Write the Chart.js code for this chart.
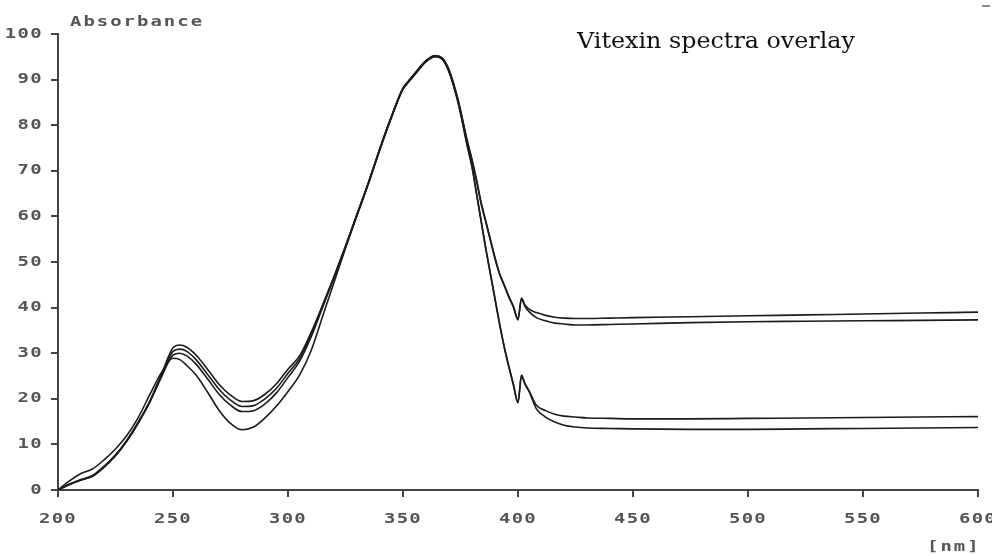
<!DOCTYPE html>
<html>
<head>
<meta charset="utf-8">
<script src="https://cdn.jsdelivr.net/npm/chart.js@4.4.1/dist/chart.umd.min.js"></script>
<style>
  html, body { margin: 0; padding: 0; background: #fff; }
  #wrap { position: relative; width: 992px; height: 555px; overflow: hidden; }
  canvas { position: absolute; left: 0; top: 0; }
  .mono { position: absolute; font-family: "DejaVu Sans Mono", monospace; font-weight: bold; font-size: 14px; color: #555; line-height: 14px; white-space: nowrap; letter-spacing: 1.5px; transform: scaleX(1.35); transform-origin: left top; }
  #ylabel { left: 70px; top: 14px; }
  #xunit { left: 927px; top: 539px; }
  #title { position: absolute; left: 577px; top: 29px; font-family: "DejaVu Serif", serif; font-size: 22px; line-height: 24px; color: #111; white-space: nowrap; transform-origin: left top; }
  #dash { position: absolute; left: 982px; top: 5px; width: 8px; height: 2px; background: #888; }
</style>
</head>
<body>
<div id="wrap">
  <canvas id="chart" width="992" height="555"></canvas>
  <div class="mono" id="ylabel">Absorbance</div>
  <div class="mono" id="xunit">[nm]</div>
  <div id="title">Vitexin spectra overlay</div>
  <div id="dash"></div>
</div>
<script>
const wavelengths = [200,205,210,215,220,225,230,235,240,245,250,253,256,260,265,270,275,280,285,290,295,300,305,310,315,320,325,330,335,340,345,350,352,355,360,364,367,370,374,378,380,382,384,386,388,390,392,394,396,398,400,401.5,403,405,408,412,416,420,425,430,440,450,475,500,525,550,575,600];

const spectrum1 = [0,1.2,2.2,3.0,5.0,7.5,10.8,14.8,19.6,25.4,31.2,31.8,31.3,29.6,26.5,23.2,20.8,19.4,19.6,21.0,23.3,26.5,29.4,34.5,40.5,46.8,53.5,60.5,67.5,75.0,82.0,88.2,89.5,91.3,94.2,95.3,94.8,92.2,85.5,76.5,72.5,68.0,63.0,59.0,55.0,51.0,47.5,45.0,42.5,40.3,37.5,42.1,40.6,39.6,38.9,38.3,37.9,37.7,37.6,37.6,37.7,37.8,38.0,38.2,38.4,38.6,38.8,39.0];
const spectrum2 = [0,1.2,2.2,3.0,5.0,7.5,10.8,14.8,19.4,25.0,30.4,30.9,30.4,28.6,25.4,22.1,19.7,18.3,18.5,20.0,22.3,25.6,28.8,34.0,40.3,46.7,53.4,60.4,67.4,74.9,81.9,88.1,89.4,91.2,94.1,95.2,94.7,92.0,85.3,76.2,72.2,67.7,62.7,58.7,54.7,50.7,47.3,44.8,42.3,40.1,37.3,41.9,40.3,39.0,37.8,37.1,36.6,36.4,36.2,36.2,36.3,36.4,36.7,36.9,37.0,37.1,37.2,37.3];
const spectrum3 = [0,1.3,2.3,3.2,5.2,7.7,11.0,15.0,19.4,24.8,29.6,30.0,29.4,27.6,24.4,21.0,18.6,17.2,17.4,18.9,21.3,24.7,28.2,33.5,40.0,46.5,53.3,60.3,67.3,74.8,81.8,88.0,89.3,91.1,94.0,95.1,94.6,91.8,85.0,75.5,71.0,65.0,59.0,53.0,47.5,42.0,36.5,31.5,27.2,23.2,19.3,25.2,23.4,21.6,18.6,17.4,16.6,16.2,16.0,15.8,15.7,15.6,15.6,15.7,15.8,15.9,16.0,16.1];
const spectrum4 = [0,2.0,3.6,4.6,6.6,9.0,12.0,16.0,21.0,25.8,28.9,28.6,27.3,25.2,21.5,17.5,14.6,13.2,13.8,15.8,18.4,21.6,25.2,30.5,38.0,45.5,53.0,60.2,67.2,74.7,81.7,87.9,89.2,91.0,93.9,95.0,94.5,91.7,84.8,75.3,70.8,64.8,58.8,52.8,47.3,41.8,36.3,31.3,27.0,23.0,19.1,25.0,23.2,21.4,17.8,16.0,14.9,14.2,13.8,13.6,13.5,13.4,13.3,13.3,13.4,13.5,13.6,13.7];

const spectra = [spectrum1, spectrum2, spectrum3, spectrum4];
const xTicks = [200, 250, 300, 350, 400, 450, 500, 550, 600];
const yTicks = [0, 10, 20, 30, 40, 50, 60, 70, 80, 90, 100];

// --- STYLE ---
const axisColor = '#444';
const tickTextColor = '#555';
const monoFont = { family: "'DejaVu Sans Mono', monospace", size: 14, weight: 'bold' };
const stretchX = 1.35;

// the printout uses wide, blocky digits: stretch canvas text around its anchor
const wideTextPlugin = {
    id: 'wideText',
    beforeDraw: (chart) => {
        const c = chart.ctx;
        c.letterSpacing = '1px';
        if (c._wide) return;
        const orig = c.fillText.bind(c);
        c.fillText = (txt, x, y, maxW) => {
            c.save(); c.translate(x, y); c.scale(stretchX, 1);
            orig(txt, 0, 0); c.restore();
        };
        c._wide = true;
    }
};

// title is stretched to the width it has in the scan
const titleEl = document.getElementById('title');
const tw = titleEl.getBoundingClientRect().width;
titleEl.style.transform = `scaleX(${278 / tw})`;

const ctx = document.getElementById('chart').getContext('2d');
new Chart(ctx, {
    type: 'line',
    data: {
        datasets: spectra.map((vals, i) => ({
            label: 'Vitexin ' + (i + 1),
            data: wavelengths.map((w, j) => ({ x: w, y: vals[j] })),
            borderColor: '#1c1c1c',
            borderWidth: 1.6,
            pointRadius: 0,
            fill: false,
            cubicInterpolationMode: 'monotone'
        }))
    },
    options: {
        responsive: false, animation: false, devicePixelRatio: 1,
        layout: { padding: { top: 34, right: 14, left: 0, bottom: 0 } },
        plugins: { legend: { display: false }, title: { display: false }, tooltip: { enabled: false } },
        scales: {
            x: {
                type: 'linear', min: 200, max: 600,
                afterFit: (s) => { s.height = 65; s.paddingLeft = 0; s.paddingRight = 0; },
                afterBuildTicks: (s) => { s.ticks = xTicks.map(v => ({ value: v })); },
                ticks: { color: tickTextColor, font: monoFont, padding: 14, maxRotation: 0 },
                grid: { display: true, drawOnChartArea: false, drawTicks: true, tickLength: 7, color: axisColor, lineWidth: 2 },
                border: { display: true, color: axisColor, width: 2 }
            },
            y: {
                min: 0, max: 100,
                afterFit: (s) => { s.width = 58; s.paddingTop = 0; s.paddingBottom = 0; },
                afterBuildTicks: (s) => { s.ticks = yTicks.map(v => ({ value: v })); },
                ticks: { color: tickTextColor, font: monoFont, padding: 8 },
                grid: { display: true, drawOnChartArea: false, drawTicks: true, tickLength: 7, color: axisColor, lineWidth: 2 },
                border: { display: true, color: axisColor, width: 2 }
            }
        }
    },
    plugins: [wideTextPlugin]
});
</script>
</body>
</html>
